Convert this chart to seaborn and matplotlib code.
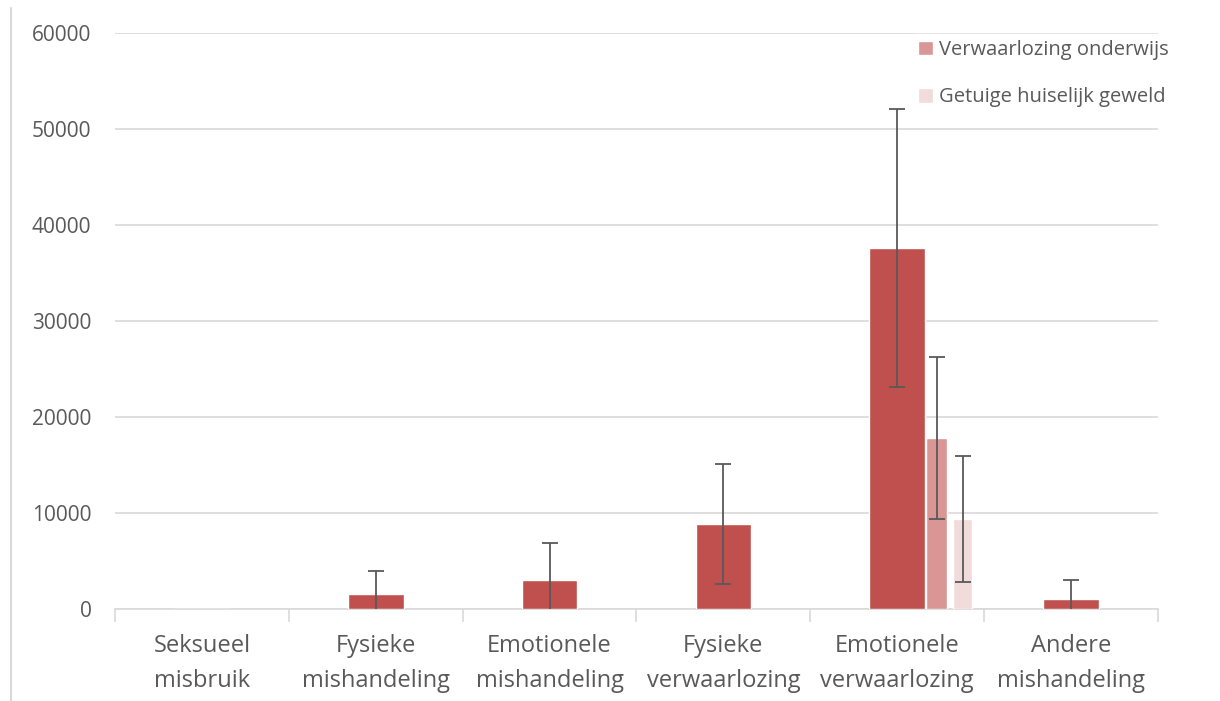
"""
bar chart of estimated prevalence per type of child maltreatment
"""

import matplotlib
matplotlib.use("Agg")
import matplotlib.pyplot as plt
from matplotlib.lines import Line2D
import seaborn as sns
import pandas as pd

# data
categories = ["Seksueel\nmisbruik", "Fysieke\nmishandeling", "Emotionele\nmishandeling",
              "Fysieke\nverwaarlozing", "Emotionele\nverwaarlozing", "Andere\nmishandeling"]
values = [0, 1600, 3000, 8850, 37600, 1050]
errors = [None, 2400, 3900, 6250, 14450, 1950]

sub_labels = ["Verwaarlozing onderwijs", "Getuige huiselijk geweld"]
sub_values = [17800, 9400]
sub_errors = [8450, 6550]
sub_category = 4  # both sub-bars belong to "Emotionele verwaarlozing"

main_color = "#C0504D"
sub_colors = ["#D99694", "#F2DCDB"]
err_color = "#595959"
grid_color = "#D9D9D9"
text_color = "#595959"

sns.set_theme(style="white")
plt.rcParams["font.family"] = ["Open Sans", "DejaVu Sans"]

df = pd.DataFrame({"type": categories, "count": values})

fig = plt.figure(figsize=(12.2, 7.01), dpi=100)
ax = fig.add_axes([115 / 1220, 1 - 609 / 701, (1158 - 115) / 1220, (609 - 33) / 701])

sns.barplot(data=df, x="type", y="count", color=main_color, saturation=1,
            width=0.32, errorbar=None, ax=ax, zorder=3)
# no error bar where there is no bar
for i, (v, e) in enumerate(zip(values, errors)):
    if e is None:
        continue
    ax.errorbar(i, v, yerr=e, fmt="none", ecolor=err_color,
                elinewidth=1.3, capsize=6, capthick=1.3, zorder=4)

# the two extra series only sit next to the emotional neglect bar
offsets = [0.227, 0.376]
widths = [0.12, 0.11]
handles = []
for lab, v, e, c, off, w in zip(sub_labels, sub_values, sub_errors, sub_colors, offsets, widths):
    b = ax.bar(sub_category + off, v, width=w, color=c, label=lab, zorder=3)
    ax.errorbar(sub_category + off, v, yerr=e, fmt="none", ecolor=err_color,
                elinewidth=1.3, capsize=6, capthick=1.3, zorder=4)
    handles.append(b)

ax.set_xlim(-0.5, len(categories) - 0.5)
ax.set_ylim(0, 60000)
ax.set_yticks(range(0, 60001, 10000))
ax.yaxis.grid(True, color=grid_color, linewidth=1.2, zorder=0)
ax.set_axisbelow(True)
ax.set_xlabel("")
ax.set_ylabel("")

for s in ["top", "right", "left"]:
    ax.spines[s].set_visible(False)
ax.spines["bottom"].set_color(grid_color)
ax.spines["bottom"].set_linewidth(1.2)

ax.tick_params(axis="y", length=0, pad=17, labelsize=15, labelcolor=text_color)
ax.tick_params(axis="x", which="major", bottom=False, pad=12, labelsize=17, labelcolor=text_color)
ax.set_xticks([i - 0.5 for i in range(len(categories) + 1)], minor=True)
ax.tick_params(axis="x", which="minor", bottom=True, length=9, width=1.2,
               color=grid_color, direction="out")
for t in ax.get_xticklabels():
    t.set_linespacing(1.6)

leg = ax.legend(handles=handles, loc="upper right", bbox_to_anchor=(1175 / 1220, 1 - 34 / 701),
                bbox_transform=fig.transFigure, frameon=True, fontsize=14.5, labelspacing=1.35,
                handlelength=0.75, handleheight=0.75, handletextpad=0.3, borderpad=0.3,
                borderaxespad=0)
leg.get_frame().set_edgecolor("white")
leg.get_frame().set_alpha(1)
for t in leg.get_texts():
    t.set_color(text_color)

# thin chart border on the left, like the Excel export
fig.add_artist(Line2D([11 / 1220, 11 / 1220], [0, 1 - 8 / 701], color=grid_color, linewidth=1.5))

fig.savefig("out.png", dpi=100, facecolor="white")
plt.close(fig)
